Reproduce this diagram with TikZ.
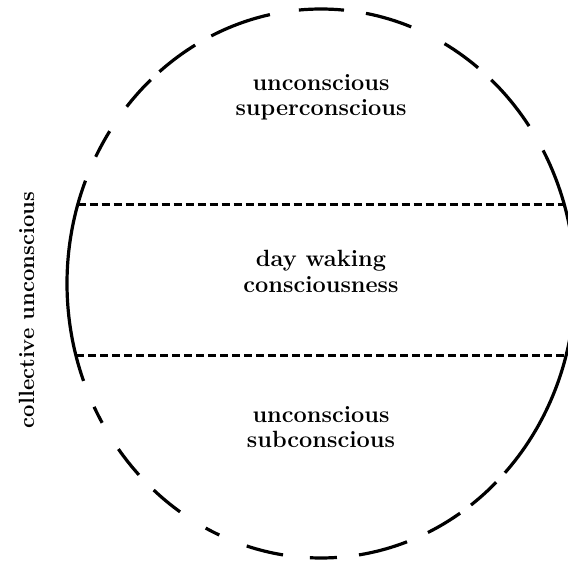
\documentclass[tikz,border=0pt]{standalone}
\begin{document}
\begin{tikzpicture}[x=1pt,y=1pt,
  rim/.style={line width=3.2pt},
  divider/.style={line width=3pt, dash pattern=on 8pt off 4pt},
  label/.style={font=\fontsize{23.5}{26}\selectfont\bfseries, inner sep=0pt, anchor=base},
  sidelabel/.style={font=\fontsize{22}{24}\selectfont\bfseries, inner sep=0pt, anchor=base, rotate=90}]
\useasboundingbox (0,0) rectangle (568,560);
\clip (0,0) rectangle (568,560);
\coordinate (C) at (321,276.5);
% outer ring: solid arcs and long dashes
\foreach \a/\b in {-43.6/29, 35/47.9, 51.8/60.9, 69.2/79.8, 84.8/95, 101.6/115.6,
  119.7/129.5, 132.1/139.9, 146.3/152.5, 158/200.8, 206.7/210.5, 217.1/224.2,
  228.8/236.3, 243/246.4, 253/261.4, 267.5/273.6, 278.6/289.8, 294.9/303.2, 306.2/313.6}
  \draw[rim] (C) ++(\a:254 and 274.5) arc[start angle=\a, end angle=\b, x radius=254, y radius=274.5];
% dividing lines
\coordinate (L1) at (77.6,355);
\coordinate (R1) at (564.4,355);
\coordinate (L2) at (76,204);
\coordinate (R2) at (566,204);
\draw[divider] (L1) -- (R1);
\draw[divider] (L2) -- (R2);
% labels
\node[label] (t1) at (321,469) {unconscious};
\node[label] (t2) at (321,444) {superconscious};
\node[label] (m1) at (321,293) {day waking};
\node[label] (m2) at (321,267) {consciousness};
\node[label] (b1) at (321,137) {unconscious};
\node[label] (b2) at (321,112) {subconscious};
\node[sidelabel] (side) at (34,250) {collective unconscious};
\end{tikzpicture}
\end{document}
